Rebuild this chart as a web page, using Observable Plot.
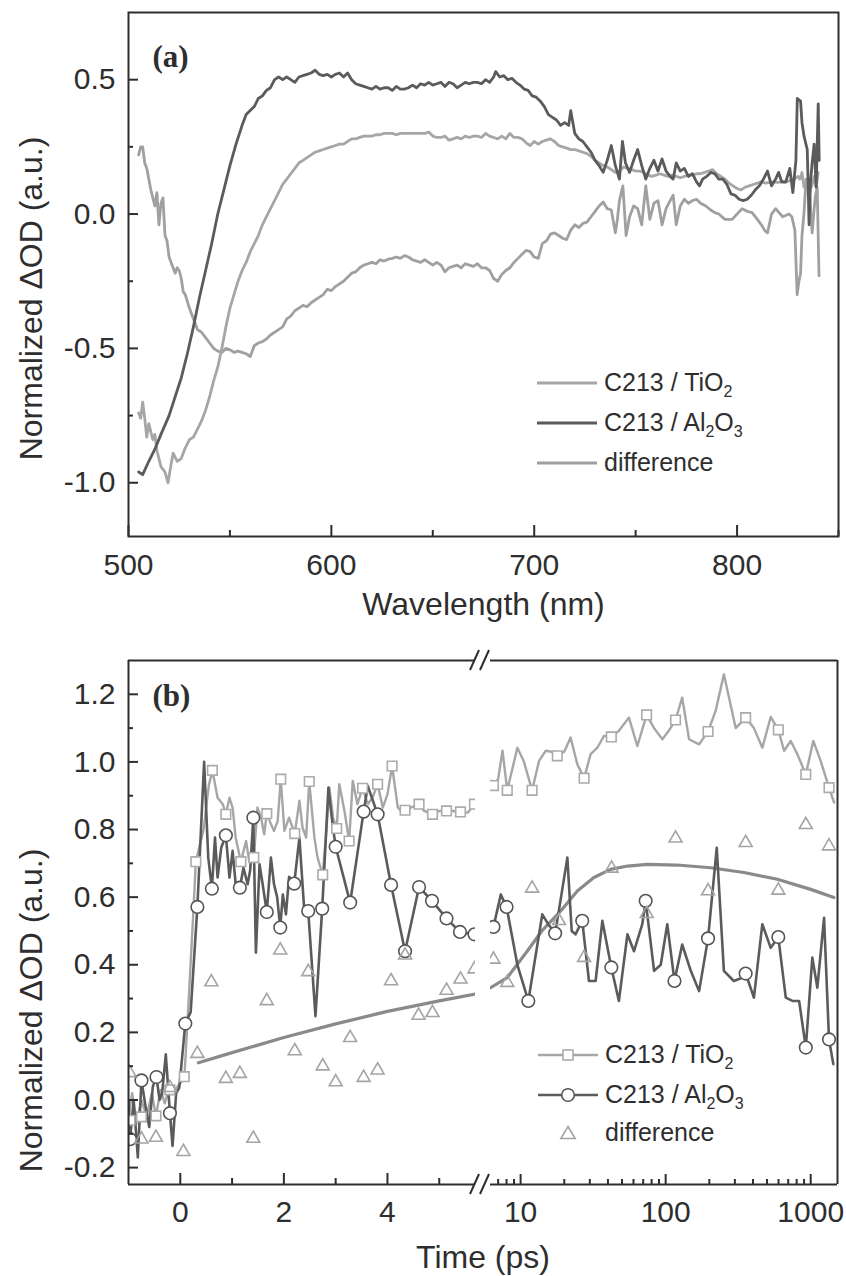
<!DOCTYPE html>
<html>
<head>
<meta charset="utf-8">
<script src="https://cdn.jsdelivr.net/npm/d3@7"></script>
<script src="https://cdn.jsdelivr.net/npm/@observablehq/plot@0.6"></script>
<style>
  html, body { margin: 0; padding: 0; background: #ffffff; }
  #page { position: relative; width: 846px; height: 1276px; overflow: hidden; background: #ffffff; font-family: 'Liberation Sans', Arial, sans-serif; color: #2e2e2e; }
  .legend-row { position: absolute; display: flex; align-items: center; font-size: 25px; line-height: 1; color: #2e2e2e; white-space: nowrap; }
  .legend-row svg { display: block; margin-right: 5px; }
  .legend-row sub { font-size: 16px; vertical-align: -6px; line-height: 0; }
</style>
</head>
<body>
<div id="page"></div>
<script>
// ---------------- Panel (a): spectra [wavelength nm, normalized dOD] ----------------
const specAl2O3 = [
[505,-0.96],[507,-0.97],[510,-0.92],[513,-0.875],[516,-0.82],[520,-0.75],[523,-0.68],[526,-0.61],[529,-0.52],[532,-0.42],
[535,-0.31],[538,-0.21],[541,-0.11],[544,0.0],[547,0.09],[550,0.18],[553,0.26],[556,0.33],[558,0.37],[560,0.385],
[562,0.40],[564,0.43],[566,0.44],[568,0.46],[570,0.47],[572,0.50],[574,0.51],[576,0.50],[578,0.51],[580,0.50],
[582,0.49],[584,0.51],[586,0.515],[588,0.52],[590,0.525],[592,0.535],[594,0.52],[596,0.515],[598,0.52],[600,0.51],
[602,0.52],[604,0.525],[606,0.51],[608,0.525],[610,0.50],[612,0.485],[614,0.48],[616,0.475],[618,0.47],[620,0.465],
[622,0.475],[624,0.465],[626,0.47],[628,0.47],[630,0.46],[632,0.475],[634,0.465],[636,0.465],[638,0.47],[640,0.48],
[642,0.47],[644,0.485],[646,0.48],[648,0.49],[650,0.48],[652,0.485],[654,0.49],[656,0.475],[658,0.49],[660,0.485],
[662,0.47],[664,0.48],[666,0.49],[668,0.485],[670,0.49],[672,0.49],[674,0.485],[676,0.50],[678,0.49],[680,0.51],
[681,0.53],[683,0.51],[685,0.515],[687,0.50],[689,0.505],[691,0.49],[693,0.48],[695,0.465],[697,0.46],[699,0.44],
[701,0.435],[703,0.42],[705,0.40],[707,0.37],[709,0.36],[711,0.35],[713,0.33],[715,0.34],[717,0.33],[718,0.385],
[720,0.30],[722,0.28],[724,0.27],[726,0.25],[728,0.23],[730,0.20],[732,0.18],[734,0.155],[736,0.20],[738,0.255],
[740,0.18],[742,0.13],[743.5,0.27],[745,0.19],[747,0.155],[749,0.20],[751,0.24],[753,0.18],[755,0.13],[757,0.17],
[759,0.20],[761,0.16],[763,0.205],[765,0.16],[767,0.14],[768.5,0.13],[770,0.19],[772,0.16],[774,0.17],[776,0.14],
[778,0.15],[780,0.12],[781.5,0.105],[783,0.13],[785,0.14],[787,0.155],[789,0.15],[791,0.13],[793,0.13],[795,0.11],
[797,0.075],[799,0.07],[801,0.055],[803,0.05],[805,0.055],[807,0.07],[809,0.09],[811,0.105],[813,0.13],[815,0.16],
[817,0.105],[819,0.13],[820.5,0.155],[822,0.12],[824,0.12],[826,0.17],[827.5,0.08],[829,0.2],[829.7,0.43],[831.3,0.42],
[832,0.34],[833,0.29],[834.6,0.24],[835.5,-0.04],[836.2,0.12],[837,0.19],[838,0.26],[839,0.10],[840,0.41],[840.5,0.2]
];
const specTiO2 = [
[505,-0.74],[506,-0.76],[507,-0.70],[508,-0.76],[509,-0.83],[510,-0.78],[511,-0.81],[512,-0.84],[513,-0.82],[514,-0.88],
[516,-0.94],[518,-0.96],[519.5,-1.0],[521,-0.93],[522,-0.89],[524,-0.92],[526,-0.91],[528,-0.87],[530,-0.84],[532,-0.83],
[534,-0.80],[536,-0.77],[538,-0.73],[540,-0.68],[542,-0.62],[544,-0.57],[546,-0.50],[548,-0.42],[550,-0.35],[552,-0.30],
[554,-0.25],[556,-0.21],[558,-0.18],[560,-0.14],[562,-0.11],[564,-0.08],[566,-0.04],[568,-0.01],[570,0.02],[572,0.05],
[574,0.08],[576,0.11],[578,0.13],[580,0.15],[582,0.17],[584,0.19],[586,0.20],[588,0.21],[590,0.22],[592,0.23],
[594,0.235],[596,0.24],[598,0.245],[600,0.25],[602,0.255],[604,0.26],[606,0.26],[608,0.27],[610,0.28],[612,0.28],
[614,0.285],[616,0.29],[618,0.29],[620,0.29],[622,0.295],[624,0.295],[626,0.30],[628,0.30],[630,0.30],[632,0.295],
[634,0.30],[636,0.30],[638,0.30],[640,0.30],[642,0.30],[644,0.30],[646,0.30],[648,0.305],[650,0.29],[652,0.285],
[654,0.285],[656,0.29],[658,0.275],[660,0.28],[662,0.285],[664,0.28],[666,0.29],[668,0.285],[670,0.29],[672,0.29],
[674,0.285],[676,0.30],[678,0.29],[680,0.285],[682,0.28],[684,0.29],[686,0.28],[688,0.30],[690,0.285],[692,0.285],
[694,0.28],[696,0.265],[698,0.255],[700,0.27],[702,0.26],[704,0.27],[706,0.275],[708,0.28],[710,0.27],[712,0.255],
[714,0.25],[716,0.245],[718,0.24],[720,0.24],[722,0.235],[724,0.23],[726,0.225],[728,0.215],[730,0.20],[732,0.19],
[734,0.18],[736,0.175],[738,0.165],[740,0.155],[742,0.16],[744,0.175],[746,0.17],[748,0.165],[750,0.16],[752,0.16],
[754,0.155],[756,0.145],[758,0.14],[760,0.145],[762,0.15],[764,0.145],[766,0.14],[768,0.145],[770,0.14],[772,0.135],
[774,0.14],[776,0.145],[778,0.145],[780,0.15],[782,0.15],[784,0.155],[786,0.16],[788,0.165],[790,0.15],[792,0.14],
[794,0.13],[796,0.115],[798,0.105],[800,0.095],[802,0.09],[804,0.10],[806,0.105],[808,0.11],[810,0.115],[812,0.12],
[814,0.115],[816,0.118],[818,0.12],[820,0.118],[822,0.12],[824,0.118],[826,0.125],[828,0.13],[830,0.14],[831,0.13],
[832,0.155],[833,0.10],[834,0.12],[835,0.13],[836,0.09],[837,0.11],[838,0.14],[839,0.10],[840,0.155]
];
const specDiff = [
[505,0.22],[506,0.25],[507,0.25],[508,0.19],[509,0.17],[510,0.13],[511,0.09],[512,0.06],[513,0.03],[514,0.08],
[515,-0.04],[516,0.04],[517,0.06],[518,-0.08],[519,-0.1],[520,-0.16],[521,-0.18],[522,-0.20],[523,-0.22],[524,-0.20],
[525,-0.21],[526,-0.24],[527,-0.29],[528,-0.30],[530,-0.35],[532,-0.39],[534,-0.43],[536,-0.44],[538,-0.46],[540,-0.48],
[542,-0.50],[544,-0.51],[546,-0.515],[548,-0.50],[550,-0.505],[552,-0.515],[554,-0.51],[556,-0.515],[558,-0.52],[560,-0.53],
[562,-0.49],[564,-0.48],[566,-0.475],[568,-0.465],[570,-0.45],[572,-0.44],[574,-0.43],[576,-0.42],[578,-0.39],[580,-0.38],
[582,-0.36],[584,-0.35],[586,-0.34],[588,-0.345],[590,-0.33],[592,-0.32],[594,-0.31],[596,-0.30],[598,-0.28],[600,-0.285],
[602,-0.27],[604,-0.26],[606,-0.25],[608,-0.235],[610,-0.22],[612,-0.215],[614,-0.20],[616,-0.19],[618,-0.185],[620,-0.18],
[622,-0.185],[624,-0.17],[626,-0.175],[628,-0.168],[630,-0.165],[632,-0.16],[634,-0.165],[636,-0.155],[638,-0.16],[640,-0.17],
[642,-0.175],[644,-0.18],[646,-0.17],[648,-0.18],[650,-0.19],[652,-0.18],[654,-0.19],[656,-0.215],[658,-0.20],[660,-0.195],
[662,-0.19],[664,-0.20],[666,-0.185],[668,-0.19],[670,-0.195],[672,-0.185],[674,-0.2],[676,-0.2],[678,-0.21],[680,-0.24],
[682,-0.25],[684,-0.225],[686,-0.21],[688,-0.2],[690,-0.18],[692,-0.165],[694,-0.15],[696,-0.135],[698,-0.14],[700,-0.16],
[702,-0.165],[704,-0.11],[706,-0.10],[708,-0.075],[710,-0.07],[712,-0.08],[714,-0.09],[716,-0.095],[718,-0.06],[720,-0.04],
[722,-0.05],[724,-0.035],[726,-0.03],[728,-0.01],[730,0.01],[732,0.03],[734,0.045],[736,0.02],[738,0.015],[740,-0.07],
[741,-0.02],[742,0.05],[743.7,0.105],[745.3,-0.08],[747,-0.01],[749,0.03],[751,0.02],[753,-0.04],[755,0.105],[757,-0.02],
[759,0.04],[761,0.05],[763,-0.04],[765,0.02],[767,0.05],[768.5,0.07],[770,-0.04],[772,0.03],[774,0.055],[776,0.04],
[778,0.05],[780,0.055],[782,0.04],[784.6,0.03],[787,0.015],[789,0.005],[791,0.0],[794,-0.02],[797.6,-0.02],[800,0.0],
[802.5,0.02],[805,0.01],[807.4,0.005],[810,-0.02],[812,-0.04],[813.5,-0.06],[815,-0.07],[817,0.0],[819,0.02],[822.5,-0.01],
[825.6,0.0],[827,-0.01],[828.5,-0.06],[829.6,-0.30],[830.5,-0.25],[831.3,-0.22],[832,-0.08],[833,0.005],[834,0.13],[835.5,0.105],
[837,-0.07],[838,0.02],[838.7,0.07],[839.5,0.1],[840.4,-0.23]
];
const aXMajor = [500, 600, 700, 800];
const aXMinor = [550, 650, 750, 850];
const aYMajor = [-1.0, -0.5, 0.0, 0.5];
const aYMinor = [-0.75, -0.25, 0.25];

// ---------------- Panel (b): kinetics [time ps, normalized dOD] ----------------
// linear part (-1 .. 5.7 ps)
const tio2Early = [
[-1.0,-0.05],[-0.93,0.02],[-0.85,-0.07],[-0.75,0.0],[-0.65,-0.05],[-0.55,0.02],[-0.47,-0.047],[-0.38,0.03],[-0.3,-0.01],[-0.2,0.04],
[-0.1,0.03],[0.0,0.05],[0.08,0.07],[0.15,0.26],[0.25,0.55],[0.3,0.705],[0.45,0.80],[0.55,0.93],[0.62,0.975],[0.72,0.894],
[0.82,0.875],[0.88,0.845],[0.95,0.894],[1.01,0.865],[1.07,0.776],[1.17,0.705],[1.27,0.766],[1.33,0.707],[1.42,0.717],[1.49,0.865],
[1.56,0.835],[1.62,0.786],[1.67,0.847],[1.75,0.816],[1.81,0.796],[1.88,0.825],[1.94,0.949],[2.01,0.796],[2.10,0.835],[2.21,0.788],
[2.30,0.885],[2.36,0.806],[2.43,0.776],[2.49,0.942],[2.59,0.776],[2.65,0.717],[2.75,0.666],[2.81,0.776],[2.88,0.924],[2.95,0.835],
[3.02,0.803],[3.07,0.934],[3.17,0.855],[3.26,0.766],[3.33,0.944],[3.42,0.875],[3.52,0.922],[3.62,0.875],[3.71,0.894],[3.81,0.934],
[3.91,0.865],[4.0,0.904],[4.09,0.988],[4.20,0.865],[4.26,0.855],[4.34,0.857],[4.45,0.865],[4.61,0.875],[4.71,0.855],[4.87,0.845],
[5.0,0.855],[5.14,0.855],[5.26,0.855],[5.41,0.852],[5.55,0.85],[5.68,0.875]
];
const tio2EarlyMarks = [
[-0.97,-0.06],[-0.75,-0.05],[-0.47,-0.047],[-0.2,0.03],[0.077,0.069],[0.30,0.705],[0.62,0.975],[0.88,0.845],[1.17,0.705],[1.42,0.717],
[1.67,0.847],[1.94,0.949],[2.21,0.788],[2.49,0.942],[2.75,0.666],[3.02,0.803],[3.26,0.766],[3.52,0.922],[3.81,0.934],[4.09,0.988],
[4.34,0.857],[4.61,0.875],[4.87,0.845],[5.14,0.855],[5.41,0.852],[5.68,0.875]
];
const al2o3Early = [
[-1.0,0.0],[-0.97,-0.116],[-0.9,0.0],[-0.82,-0.17],[-0.75,0.058],[-0.68,-0.01],[-0.6,-0.08],[-0.53,0.04],[-0.46,0.068],[-0.4,0.0],
[-0.35,0.02],[-0.28,0.135],[-0.2,-0.039],[-0.15,-0.136],[-0.08,0.02],[-0.02,0.036],[0.05,0.15],[0.097,0.226],[0.2,0.26],[0.33,0.571],
[0.46,1.0],[0.54,0.717],[0.61,0.625],[0.67,0.776],[0.72,0.658],[0.79,0.746],[0.88,0.783],[0.95,0.658],[1.01,0.737],[1.07,0.638],
[1.15,0.628],[1.22,0.687],[1.30,0.638],[1.35,0.68],[1.41,0.835],[1.46,0.436],[1.53,0.697],[1.59,0.638],[1.67,0.556],[1.75,0.717],
[1.81,0.638],[1.87,0.60],[1.93,0.51],[1.98,0.608],[2.04,0.549],[2.1,0.66],[2.2,0.64],[2.3,0.776],[2.39,0.569],[2.47,0.559],
[2.61,0.248],[2.74,0.566],[2.86,0.924],[2.94,0.816],[3.0,0.749],[3.28,0.584],[3.54,0.853],[3.62,0.929],[3.81,0.845],[4.07,0.636],
[4.34,0.44],[4.61,0.63],[4.86,0.589],[5.14,0.537],[5.4,0.497],[5.68,0.49],[5.75,0.47]
];
const al2o3EarlyMarks = [
[-0.97,-0.116],[-0.75,0.058],[-0.46,0.068],[-0.2,-0.039],[0.097,0.226],[0.33,0.571],[0.61,0.625],[0.88,0.783],[1.15,0.628],[1.41,0.835],
[1.67,0.556],[1.93,0.51],[2.2,0.64],[2.47,0.559],[2.74,0.566],[3.0,0.749],[3.28,0.584],[3.54,0.853],[3.81,0.845],[4.07,0.636],
[4.34,0.44],[4.61,0.63],[4.86,0.589],[5.14,0.537],[5.4,0.497],[5.68,0.49]
];
const diffEarly = [
[-0.98,0.08],[-0.75,-0.116],[-0.47,-0.111],[-0.2,0.036],[0.06,-0.153],[0.33,0.137],[0.6,0.349],[0.88,0.063],[1.15,0.078],[1.41,-0.114],
[1.67,0.293],[1.93,0.443],[2.21,0.145],[2.47,0.379],[2.75,0.10],[3.0,0.053],[3.28,0.184],[3.54,0.066],[3.81,0.088],[4.07,0.352],
[4.34,0.428],[4.6,0.25],[4.87,0.258],[5.14,0.324],[5.41,0.357],[5.68,0.387]
];
const fitEarly = [[0.35,0.11],[1,0.14],[2,0.185],[3,0.225],[4,0.262],[5,0.293],[5.75,0.315]];

// logarithmic part (6.2 .. 1530 ps)
const tio2Late = [
[6.3,0.944],[6.5,0.93],[7.0,0.95],[7.5,1.033],[8.09,0.916],[9.5,1.042],[10.5,1.003],[12.0,0.916],[13.4,1.003],[14.9,1.033],
[16.3,1.03],[17.9,1.018],[20,1.03],[22.1,1.072],[24.6,0.993],[27.4,0.952],[30.4,1.023],[33.8,1.042],[37.6,1.077],[42.2,1.074],
[47.6,1.092],[55.8,1.131],[63.8,1.047],[73.9,1.139],[83.2,1.10],[94.9,1.067],[105,1.092],[117,1.124],[130,1.19],[145,1.067],
[170,1.052],[196,1.09],[221,1.151],[252,1.259],[304,1.10],[356,1.131],[406,1.10],[464,1.042],[530,1.133],[598,1.095],
[655,1.033],[728,1.062],[809,1.023],[925,0.963],[1042,1.062],[1171,1.003],[1337,0.924],[1450,0.88]
];
const tio2LateMarks = [
[6.5,0.93],[8.09,0.916],[12.0,0.916],[17.9,1.018],[27.4,0.952],[42.2,1.074],[73.9,1.139],[117,1.124],[196,1.09],[356,1.131],
[598,1.095],[925,0.963],[1337,0.924]
];
const al2o3Late = [
[6.3,0.52],[6.5,0.512],[7.3,0.608],[8.0,0.571],[9.5,0.40],[11.3,0.293],[14.1,0.549],[15.5,0.52],[17.3,0.493],[19,0.60],
[21,0.717],[22.5,0.50],[23.9,0.49],[26.6,0.53],[29.6,0.352],[32.9,0.352],[36.6,0.53],[42.2,0.392],[47.6,0.293],[54.5,0.49],
[60.5,0.44],[69,0.52],[72.8,0.589],[83.2,0.382],[92.5,0.40],[102.6,0.52],[115,0.352],[130,0.46],[149,0.382],[170,0.322],
[196,0.478],[225,0.746],[252,0.382],[295,0.352],[330,0.36],[356,0.374],[406,0.303],[464,0.52],[530,0.45],[598,0.482],
[673,0.303],[748,0.293],[832,0.293],[925,0.155],[1026,0.421],[1111,0.332],[1236,0.539],[1337,0.179],[1432,0.106]
];
const al2o3LateMarks = [
[6.5,0.512],[8.0,0.571],[11.3,0.293],[17.3,0.493],[26.6,0.53],[42.2,0.392],[72.8,0.589],[115,0.352],[196,0.478],[356,0.374],
[598,0.482],[925,0.155],[1337,0.179]
];
const diffLate = [
[6.5,0.416],[8.09,0.347],[12.0,0.626],[18.4,0.53],[27.4,0.421],[42.4,0.685],[74,0.551],[117,0.774],[196,0.618],[356,0.761],
[598,0.62],[925,0.814],[1337,0.751]
];
const fitLate = [
[6.2,0.332],[8.09,0.362],[11.1,0.44],[14,0.50],[18.9,0.559],[24.6,0.618],[32,0.658],[41.7,0.682],[54.5,0.692],[74.8,0.697],
[120,0.695],[204,0.687],[347,0.673],[589,0.653],[1000,0.623],[1445,0.599]
];
const bXMajorEarly = [0, 2, 4];
const bXMinorEarly = [1, 3, 5];
const bXMajorLate = [10, 100, 1000];
const bXMinorLate = [7, 8, 9, 20, 30, 40, 50, 60, 70, 80, 90, 200, 300, 400, 500, 600, 700, 800, 900];
const bYMajor = [-0.2, 0.0, 0.2, 0.4, 0.6, 0.8, 1.0, 1.2];
const bYMinor = [-0.1, 0.1, 0.3, 0.5, 0.7, 0.9, 1.1];

// ---------------- styling ----------------
const FONT = "'Liberation Sans', Arial, Helvetica, sans-serif";
const SERIF = "'Liberation Serif', 'Times New Roman', serif";
const INK = "#2e2e2e";
const C_TI = "#a6a6a6", C_AL = "#5b5b5b", C_DIFF = "#a0a0a0", C_FIT = "#8a8a8a";
const TICK_FS = "30px";
const X = d => d[0], Y = d => d[1];
const page = document.getElementById("page");

function place(el, left, top) {
  el.style.position = "absolute"; el.style.left = left + "px"; el.style.top = top + "px";
  page.appendChild(el);
}
const YLABEL = "Normalized \u0394OD (a.u.)";

// ---------------- Panel (a) ----------------
const plotA = Plot.plot({
  width: 846, height: 640,
  marginLeft: 128, marginRight: 8, marginTop: 12, marginBottom: 104,
  x: {domain: [500, 850]},
  y: {domain: [-1.2, 0.75]},
  style: {fontFamily: FONT, fontSize: TICK_FS, color: INK, background: "transparent", overflow: "visible"},
  marks: [
    Plot.line(specDiff, {x: X, y: Y, stroke: C_DIFF, strokeWidth: 2.8, clip: true}),
    Plot.line(specTiO2, {x: X, y: Y, stroke: C_TI, strokeWidth: 2.8, clip: true}),
    Plot.line(specAl2O3, {x: X, y: Y, stroke: C_AL, strokeWidth: 2.8, clip: true}),
    Plot.frame({stroke: INK, strokeWidth: 2}),
    Plot.axisX({ticks: aXMajor, tickSize: 0, tickPadding: 17, tickFormat: d => String(d), label: null}),
    Plot.axisX({ticks: aXMajor, tickSize: -11, fill: "none", strokeWidth: 2, label: null}),
    Plot.axisX({ticks: aXMinor, tickSize: -6, fill: "none", strokeWidth: 2, label: null}),
    Plot.axisY({ticks: aYMajor, tickSize: 0, tickPadding: 13, tickFormat: d => d.toFixed(1), label: null}),
    Plot.axisY({ticks: aYMajor, tickSize: -10, fill: "none", strokeWidth: 2, label: null}),
    Plot.axisY({ticks: aYMinor, tickSize: -5, fill: "none", strokeWidth: 2, label: null}),
    Plot.text(["Wavelength (nm)"], {text: d => d, frameAnchor: "bottom", lineAnchor: "middle", textAnchor: "middle", dy: 68, fontSize: 32, fill: INK}),
    Plot.text([YLABEL], {text: d => d, frameAnchor: "left", textAnchor: "middle", lineAnchor: "middle", rotate: -90, dx: -97, dy: 24, fontSize: 32, fill: INK}),
    Plot.text(["(a)"], {text: d => d, frameAnchor: "top-left", lineAnchor: "middle", textAnchor: "start", dx: 24, dy: 45, fontFamily: SERIF, fontWeight: "bold", fontSize: 31, fill: INK})
  ]
});
place(plotA, 0, 0);

// ---------------- Panel (b) left (linear) ----------------
const yB = {domain: [-0.25, 1.3]};
const plotBL = Plot.plot({
  width: 846, height: 636,
  marginLeft: 128, marginRight: 371, marginTop: 20, marginBottom: 92,
  x: {domain: [-1, 5.7]},
  y: yB,
  style: {fontFamily: FONT, fontSize: TICK_FS, color: INK, background: "transparent", overflow: "visible"},
  marks: [
    Plot.line(fitEarly, {x: X, y: Y, stroke: C_FIT, strokeWidth: 3.2, clip: true}),
    Plot.line(tio2Early, {x: X, y: Y, stroke: C_TI, strokeWidth: 2.4, clip: true}),
    Plot.line(al2o3Early, {x: X, y: Y, stroke: C_AL, strokeWidth: 2.6, clip: true}),
    Plot.dot(tio2EarlyMarks, {x: X, y: Y, symbol: "square", r: 5.4, stroke: "#ababab", fill: "white", strokeWidth: 1.6, clip: true}),
    Plot.dot(al2o3EarlyMarks, {x: X, y: Y, symbol: "circle", r: 6.3, stroke: "#555555", fill: "white", strokeWidth: 1.6, clip: true}),
    Plot.dot(diffEarly, {x: X, y: Y, symbol: "triangle", r: 4.8, stroke: "#a4a4a4", fill: "none", strokeWidth: 1.6, clip: true}),
    Plot.ruleX([-1], {stroke: INK, strokeWidth: 2}),
    Plot.ruleY(yB.domain, {stroke: INK, strokeWidth: 2}),
    Plot.axisX({ticks: bXMajorEarly, tickSize: 0, tickPadding: 16, tickFormat: d => String(d), label: null}),
    Plot.axisX({ticks: bXMajorEarly, tickSize: -11, fill: "none", strokeWidth: 2, label: null}),
    Plot.axisX({ticks: bXMinorEarly, tickSize: -6, fill: "none", strokeWidth: 2, label: null}),
    Plot.axisY({ticks: bYMajor, tickSize: 0, tickPadding: 13, tickFormat: d => d.toFixed(1), label: null}),
    Plot.axisY({ticks: bYMajor, tickSize: -10, fill: "none", strokeWidth: 2, label: null}),
    Plot.axisY({ticks: bYMinor, tickSize: -5, fill: "none", strokeWidth: 2, label: null}),
    Plot.text([YLABEL], {text: d => d, frameAnchor: "left", textAnchor: "middle", lineAnchor: "middle", rotate: -90, dx: -97, dy: 88, fontSize: 32, fill: INK}),
    Plot.text(["Time (ps)"], {text: d => d, frameAnchor: "bottom", lineAnchor: "middle", textAnchor: "middle", dx: 181, dy: 73, fontSize: 32, fill: INK}),
    Plot.text(["(b)"], {text: d => d, frameAnchor: "top-left", lineAnchor: "middle", textAnchor: "start", dx: 24, dy: 36, fontFamily: SERIF, fontWeight: "bold", fontSize: 31, fill: INK})
  ]
});
place(plotBL, 0, 640);

// ---------------- Panel (b) right (log) ----------------
const plotBR = Plot.plot({
  width: 846, height: 636,
  marginLeft: 490, marginRight: 9, marginTop: 20, marginBottom: 92,
  x: {type: "log", domain: [6.2, 1530]},
  y: {...yB, axis: null},
  style: {fontFamily: FONT, fontSize: TICK_FS, color: INK, background: "transparent", overflow: "visible"},
  marks: [
    Plot.line(fitLate, {x: X, y: Y, stroke: C_FIT, strokeWidth: 3.2, clip: true}),
    Plot.line(tio2Late, {x: X, y: Y, stroke: C_TI, strokeWidth: 2.4, clip: true}),
    Plot.line(al2o3Late, {x: X, y: Y, stroke: C_AL, strokeWidth: 2.6, clip: true}),
    Plot.dot(tio2LateMarks, {x: X, y: Y, symbol: "square", r: 5.4, stroke: "#ababab", fill: "white", strokeWidth: 1.6, clip: true}),
    Plot.dot(al2o3LateMarks, {x: X, y: Y, symbol: "circle", r: 6.3, stroke: "#555555", fill: "white", strokeWidth: 1.6, clip: true}),
    Plot.dot(diffLate, {x: X, y: Y, symbol: "triangle", r: 4.8, stroke: "#a4a4a4", fill: "none", strokeWidth: 1.6, clip: true}),
    Plot.ruleX([1530], {stroke: INK, strokeWidth: 2}),
    Plot.ruleY(yB.domain, {stroke: INK, strokeWidth: 2}),
    Plot.axisX({ticks: bXMajorLate, tickSize: 0, tickPadding: 16, tickFormat: d => String(d), label: null}),
    Plot.axisX({ticks: bXMajorLate, tickSize: -10, fill: "none", strokeWidth: 2, label: null}),
    Plot.axisX({ticks: bXMinorLate, tickSize: -5, fill: "none", strokeWidth: 2, label: null})
  ]
});
place(plotBR, 0, 640);

// ---------------- axis break marks ----------------
const brk = document.createElementNS("http://www.w3.org/2000/svg", "svg");
brk.setAttribute("width", "40"); brk.setAttribute("height", "600");
brk.innerHTML = [660 - 640, 1184 - 640].map(cy =>
  `<line x1="2" y1="${cy + 10}" x2="11" y2="${cy - 10}" stroke="${INK}" stroke-width="2"/>` +
  `<line x1="12" y1="${cy + 10}" x2="21" y2="${cy - 10}" stroke="${INK}" stroke-width="2"/>`
).join("");
brk.style.overflow = "visible";
place(brk, 468, 640);

// ---------------- legends ----------------
function legendRow(left, centerY, swatch, html) {
  const row = document.createElement("div");
  row.className = "legend-row";
  row.innerHTML = `<svg width="62" height="20" viewBox="0 0 62 20">${swatch}</svg><span>${html}</span>`;
  row.style.left = left + "px";
  row.style.top = (centerY - 13) + "px";
  page.appendChild(row);
}
const TI_TXT = "C213 / TiO<sub>2</sub>";
const AL_TXT = "C213 / Al<sub>2</sub>O<sub>3</sub>";
legendRow(537, 383, `<line x1="0" y1="10" x2="60" y2="10" stroke="${C_TI}" stroke-width="3"/>`, TI_TXT);
legendRow(537, 423, `<line x1="0" y1="10" x2="60" y2="10" stroke="${C_AL}" stroke-width="3"/>`, AL_TXT);
legendRow(537, 463, `<line x1="0" y1="10" x2="60" y2="10" stroke="${C_DIFF}" stroke-width="3"/>`, "difference");

legendRow(538, 1055, `<line x1="0" y1="10" x2="60" y2="10" stroke="${C_TI}" stroke-width="2.6"/><rect x="25" y="5" width="10" height="10" fill="white" stroke="#ababab" stroke-width="1.6"/>`, TI_TXT);
legendRow(538, 1095, `<line x1="0" y1="10" x2="60" y2="10" stroke="${C_AL}" stroke-width="2.6"/><circle cx="30" cy="10" r="6.3" fill="white" stroke="#555" stroke-width="1.6"/>`, AL_TXT);
legendRow(538, 1133, `<path d="M30,3.5 L37.2,15.5 L22.8,15.5 Z" fill="none" stroke="#a4a4a4" stroke-width="1.6"/>`, "difference");
</script>
</body>
</html>
